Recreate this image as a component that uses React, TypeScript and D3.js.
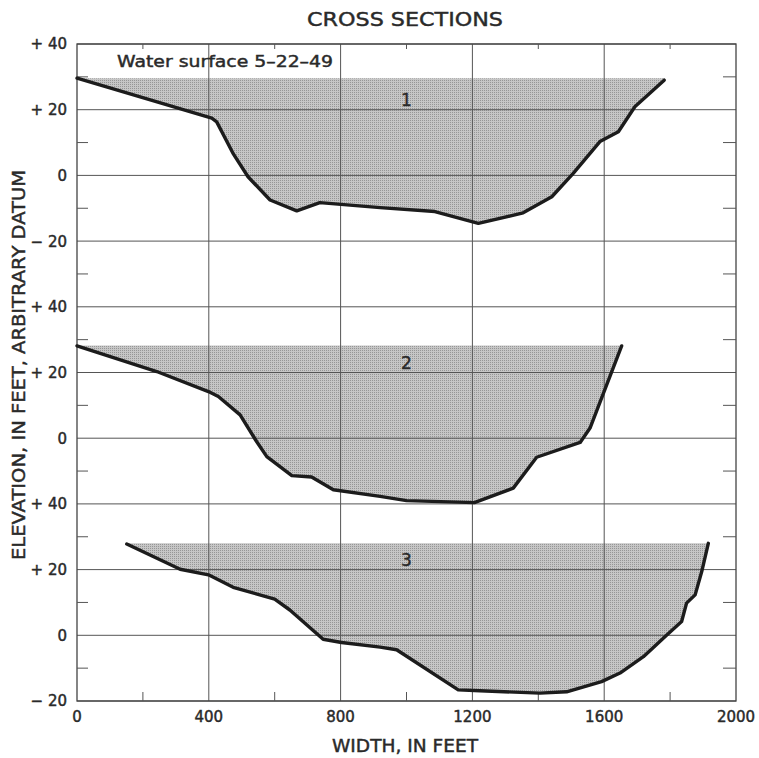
import * as d3 from "d3";

// [width ft, elevation ft] along each cross section
const section1: [number, number][] = [
  [0, 29.6], [409, 17.4], [424, 16.3], [473, 6.8], [519, -0.4], [586, -7.5],
  [667, -10.8], [737, -8.3], [920, -9.8], [1086, -11.0], [1218, -14.6],
  [1354, -11.4], [1441, -6.5], [1506, 0.6], [1587, 10.3], [1643, 13.3],
  [1693, 20.9], [1782, 29.0],
];
const section2: [number, number][] = [
  [0, 28.1], [242, 20.3], [399, 14.2], [429, 12.7], [495, 7.1], [545, -1.0],
  [576, -5.6], [652, -11.4], [712, -11.8], [778, -15.7], [920, -17.7],
  [1000, -19.0], [1206, -19.6], [1324, -15.2], [1395, -5.8], [1527, -1.3],
  [1557, 3.1], [1653, 28.1],
];
const section3: [number, number][] = [
  [151, 27.8], [313, 20.1], [399, 18.4], [474, 14.6], [600, 11.0], [646, 7.7],
  [747, -1.2], [803, -2.2], [920, -3.6], [970, -4.4], [1157, -16.6],
  [1223, -16.9], [1405, -17.6], [1486, -17.2], [1592, -14.1], [1648, -11.5],
  [1719, -6.5], [1790, 0.1], [1835, 4.2], [1850, 9.8], [1876, 12.3],
  [1896, 19.4], [1916, 28.0],
];
const waterLevels = [29.6, 28.2, 28.0];
const sectionNames = ["1", "2", "3"];
const panelTopRows = [0, 4, 7]; // grid row where each panel's +40 line sits

const xTicks = [0, 400, 800, 1200, 1600, 2000];
const xMinorTicks = [200, 600, 1000, 1400, 1800];
const rowLabels = ["+ 40", "+ 20", "0", "\u2212 20", "+ 40", "+ 20", "0", "+ 40", "+ 20", "0", "\u2212 20"];

const W = 759;
const H = 758;
const left = 77, right = 736, top = 44, bottom = 701;

export default function App() {
  const x = d3.scaleLinear().domain([0, 2000]).range([left, right]);
  const row = d3.scaleLinear().domain([0, 10]).range([top, bottom]);
  const sections = [section1, section2, section3];
  const ink = "#2a2a2a";
  const grid = "#555";
  const txt = { fill: ink, stroke: ink, strokeWidth: 0.45 };

  return (
    <div style={{ position: "absolute", left: 0, top: 0 }}>
      <svg width={W} height={H} style={{ display: "block", background: "#fff" }} fontFamily="DejaVu Sans">
        <defs>
          <pattern id="dots" width={2} height={2} patternUnits="userSpaceOnUse">
            <rect width={2} height={2} fill="#c6c6c6" />
            <rect width={1} height={1} fill="#969696" />
          </pattern>
        </defs>

        {/* fills */}
        {sections.map((pts, i) => {
          const y = d3.scaleLinear().domain([-20, 40]).range([row(panelTopRows[i] + 3), row(panelTopRows[i])]);
          const area = d3.area<[number, number]>()
            .x((d) => x(d[0]))
            .y0(() => y(waterLevels[i]))
            .y1((d) => y(d[1]));
          return <path key={"a" + i} d={area(pts) || ""} fill="url(#dots)" stroke="none" />;
        })}

        {/* grid */}
        {d3.range(11).map((r) => (
          <line key={"h" + r} x1={left} x2={right} y1={row(r)} y2={row(r)} stroke={grid} strokeWidth={1} />
        ))}
        {xTicks.slice(1, -1).map((t) => (
          <line key={"v" + t} x1={x(t)} x2={x(t)} y1={top} y2={bottom} stroke={grid} strokeWidth={1} />
        ))}
        <rect x={left} y={top} width={right - left} height={bottom - top} fill="none" stroke="#444" strokeWidth={1.3} />

        {/* minor ticks */}
        {d3.range(10).map((r) => (
          <g key={"m" + r} stroke={grid} strokeWidth={1}>
            <line x1={left} x2={left + 11} y1={row(r + 0.5)} y2={row(r + 0.5)} />
            <line x1={right - 13} x2={right} y1={row(r + 0.5)} y2={row(r + 0.5)} />
          </g>
        ))}
        {xMinorTicks.map((t) => (
          <g key={"xm" + t} stroke={grid} strokeWidth={1}>
            <line x1={x(t)} x2={x(t)} y1={top} y2={top + 5} />
            <line x1={x(t)} x2={x(t)} y1={bottom} y2={bottom - 9} />
          </g>
        ))}

        {/* bed lines and section numbers */}
        {sections.map((pts, i) => {
          const y = d3.scaleLinear().domain([-20, 40]).range([row(panelTopRows[i] + 3), row(panelTopRows[i])]);
          const line = d3.line<[number, number]>().x((d) => x(d[0])).y((d) => y(d[1]));
          return (
            <g key={"l" + i}>
              <path d={line(pts) || ""} fill="none" stroke="#1c1c1c" strokeWidth={3.4} strokeLinejoin="round" strokeLinecap="round" />
              <text x={x(1000)} y={y(23)} dy="0.36em" textAnchor="middle" fontSize={17} {...txt}>{sectionNames[i]}</text>
            </g>
          );
        })}

        {/* y tick labels */}
        {rowLabels.map((lab, r) => (
          <text key={"yl" + r} x={67} y={row(r)} dy="0.36em" textAnchor="end" fontSize={15} {...txt}>{lab}</text>
        ))}
        {/* x tick labels */}
        {xTicks.map((t) => (
          <text key={"xl" + t} x={x(t)} y={722} textAnchor="middle" fontSize={15} {...txt}>{t}</text>
        ))}

        <text x={117} y={67} fontSize={16} {...txt} textLength={216} lengthAdjust="spacingAndGlyphs">Water surface  5–22–49</text>
        <text x={405} y={26} textAnchor="middle" fontSize={20} {...txt} textLength={196} lengthAdjust="spacingAndGlyphs">CROSS  SECTIONS</text>
        <text x={405} y={752} textAnchor="middle" fontSize={18} {...txt} textLength={146} lengthAdjust="spacingAndGlyphs">WIDTH,  IN  FEET</text>
        <text transform={`translate(25,${365}) rotate(-90)`} textAnchor="middle" fontSize={18} {...txt} textLength={390} lengthAdjust="spacingAndGlyphs">ELEVATION,  IN  FEET,  ARBITRARY  DATUM</text>
      </svg>
    </div>
  );
}
